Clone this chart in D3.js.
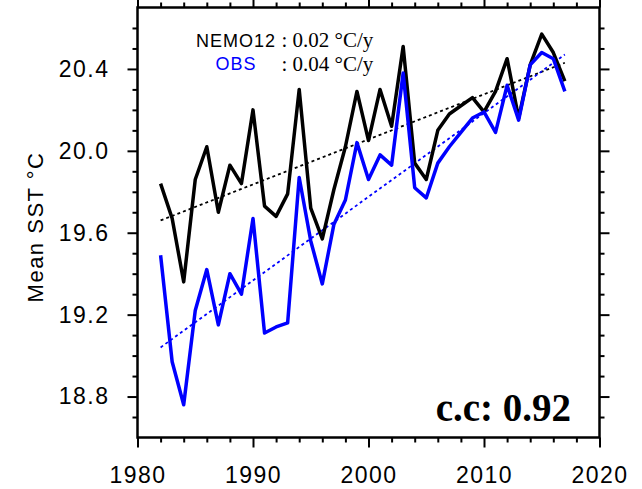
<!DOCTYPE html>
<html>
<head>
<meta charset="utf-8">
<script src="https://cdn.jsdelivr.net/npm/d3@7"></script>
<style>
  body { margin: 0; background: #fff; }
  svg { display: block; }
</style>
</head>
<body>
<div class="chart"></div>
<script>
// yearly mean SST
var years = [1982, 1983, 1984, 1985, 1986, 1987, 1988, 1989, 1990, 1991,
             1992, 1993, 1994, 1995, 1996, 1997, 1998, 1999, 2000, 2001,
             2002, 2003, 2004, 2005, 2006, 2007, 2008, 2009, 2010, 2011,
             2012, 2013, 2014, 2015, 2016, 2017];

var nemo12 = [19.84, 19.67, 19.36, 19.86, 20.02, 19.70, 19.93, 19.84, 20.20, 19.73,
              19.68, 19.79, 20.30, 19.72, 19.57, 19.81, 20.02, 20.29, 20.05, 20.30,
              20.12, 20.51, 19.94, 19.86, 20.10, 20.18, 20.22, 20.26, 20.19, 20.29,
              20.45, 20.16, 20.42, 20.57, 20.48, 20.34];

var obs = [19.49, 18.97, 18.76, 19.22, 19.42, 19.15, 19.40, 19.30, 19.67, 19.11,
           19.14, 19.16, 19.87, 19.56, 19.35, 19.64, 19.76, 20.04, 19.86, 19.98,
           19.93, 20.38, 19.82, 19.77, 19.94, 20.02, 20.09, 20.16, 20.19, 20.09,
           20.32, 20.15, 20.42, 20.48, 20.45, 20.29];

// trend lines (start / end of the period)
var trendYears = [1982, 2017];
var nemoTrend = [19.66, 20.43];
var obsTrend = [19.04, 20.47];

var xTicks = [1980, 1990, 2000, 2010, 2020];
var xMinor = [1982, 1984, 1986, 1988, 1992, 1994, 1996, 1998, 2002, 2004,
              2006, 2008, 2012, 2014, 2016, 2018];
var yTicks = [18.8, 19.2, 19.6, 20.0, 20.4];
var yMinor = [18.7, 18.9, 19.0, 19.1, 19.3, 19.4, 19.5, 19.7, 19.8, 19.9,
              20.1, 20.2, 20.3, 20.5, 20.6];

var svgWidth = 642;
var svgHeight = 489;

var margin = { top: 7.5, left: 137.5, right: 42.5, bottom: 51.5 };
var width = svgWidth - margin.left - margin.right;
var height = svgHeight - margin.top - margin.bottom;

var svg = d3.select(".chart")
  .append("svg")
  .attr("width", svgWidth)
  .attr("height", svgHeight);

var chartGroup = svg.append("g")
  .attr("transform", `translate(${margin.left}, ${margin.top})`);

var xScale = d3.scaleLinear().domain([1980, 2020]).range([0, width]);
var yScale = d3.scaleLinear().domain([18.6, 20.7]).range([height, 0]);

var sans = "'Liberation Sans', Arial, Helvetica, sans-serif";
var serif = "'Liberation Serif', 'Times New Roman', serif";

// axes: major + minor ticks on all four sides, all pointing outward
function styleAxis(g) {
  g.select(".domain").remove();
  g.selectAll("line").attr("stroke", "#000").attr("stroke-width", 2);
  g.selectAll("text")
    .attr("fill", "#000")
    .style("font-family", sans)
    .style("font-size", "23px")
    .style("letter-spacing", "1.5px");
}

chartGroup.append("g")
  .attr("transform", `translate(0, ${height})`)
  .call(d3.axisBottom(xScale).tickValues(xTicks).tickSize(10).tickPadding(19).tickFormat(d3.format("d")))
  .call(styleAxis);
chartGroup.append("g")
  .attr("transform", `translate(0, ${height})`)
  .call(d3.axisBottom(xScale).tickValues(xMinor).tickSize(5).tickFormat(""))
  .call(styleAxis);
chartGroup.append("g")
  .call(d3.axisTop(xScale).tickValues(xTicks).tickSize(10).tickFormat(""))
  .call(styleAxis);
chartGroup.append("g")
  .call(d3.axisTop(xScale).tickValues(xMinor).tickSize(5).tickFormat(""))
  .call(styleAxis);

chartGroup.append("g")
  .call(d3.axisLeft(yScale).tickValues(yTicks).tickSize(10).tickPadding(18).tickFormat(d3.format(".1f")))
  .call(styleAxis);
chartGroup.append("g")
  .call(d3.axisLeft(yScale).tickValues(yMinor).tickSize(5).tickFormat(""))
  .call(styleAxis);
chartGroup.append("g")
  .attr("transform", `translate(${width}, 0)`)
  .call(d3.axisRight(yScale).tickValues(yTicks).tickSize(10).tickFormat(""))
  .call(styleAxis);
chartGroup.append("g")
  .attr("transform", `translate(${width}, 0)`)
  .call(d3.axisRight(yScale).tickValues(yMinor).tickSize(5).tickFormat(""))
  .call(styleAxis);

// y axis title
svg.append("text")
  .attr("transform", "translate(43, 227) rotate(-90)")
  .attr("text-anchor", "middle")
  .style("font-family", sans)
  .style("font-size", "22px")
  .style("letter-spacing", "1.5px")
  .text("Mean SST °C");

// trend lines
var trendLine = d3.line()
  .x((d, i) => xScale(trendYears[i]))
  .y(d => yScale(d));

chartGroup.append("path")
  .datum(nemoTrend)
  .attr("d", trendLine)
  .attr("fill", "none")
  .attr("stroke", "#000")
  .attr("stroke-width", 1.8)
  .attr("stroke-dasharray", "3,3");

chartGroup.append("path")
  .datum(obsTrend)
  .attr("d", trendLine)
  .attr("fill", "none")
  .attr("stroke", "#0000ff")
  .attr("stroke-width", 1.8)
  .attr("stroke-dasharray", "3,3");

// series lines
var line = d3.line()
  .x((d, i) => xScale(years[i]))
  .y(d => yScale(d));

chartGroup.append("path")
  .datum(nemo12)
  .attr("d", line)
  .attr("fill", "none")
  .attr("stroke", "#000")
  .attr("stroke-width", 3.5)
  .attr("stroke-linejoin", "round");

chartGroup.append("path")
  .datum(obs)
  .attr("d", line)
  .attr("fill", "none")
  .attr("stroke", "#0000ff")
  .attr("stroke-width", 3.5)
  .attr("stroke-linejoin", "round");

// frame
chartGroup.append("rect")
  .attr("width", width)
  .attr("height", height)
  .attr("fill", "none")
  .attr("stroke", "#000")
  .attr("stroke-width", 2.5);

// legend
var legend = [
  { name: "NEMO12", color: "#000", rate: ": 0.02 °C/y", y: 46.7 },
  { name: "OBS", color: "#0000ff", rate: ": 0.04 °C/y", y: 70.3 }
];

legend.forEach(function(d) {
  svg.append("text")
    .attr("x", 236)
    .attr("y", d.y)
    .attr("text-anchor", "middle")
    .attr("fill", d.color)
    .style("font-family", sans)
    .style("font-size", "18px")
    .style("letter-spacing", "1px")
    .text(d.name);
  svg.append("text")
    .attr("x", 281.5)
    .attr("y", d.y + 0.5)
    .attr("fill", "#000")
    .style("font-family", serif)
    .style("font-size", "21px")
    .text(d.rate);
});

// correlation coefficient
svg.append("text")
  .attr("x", 571)
  .attr("y", 421)
  .attr("text-anchor", "end")
  .style("font-family", serif)
  .style("font-size", "39px")
  .style("font-weight", "bold")
  .text("c.c: 0.92");
</script>
</body>
</html>
